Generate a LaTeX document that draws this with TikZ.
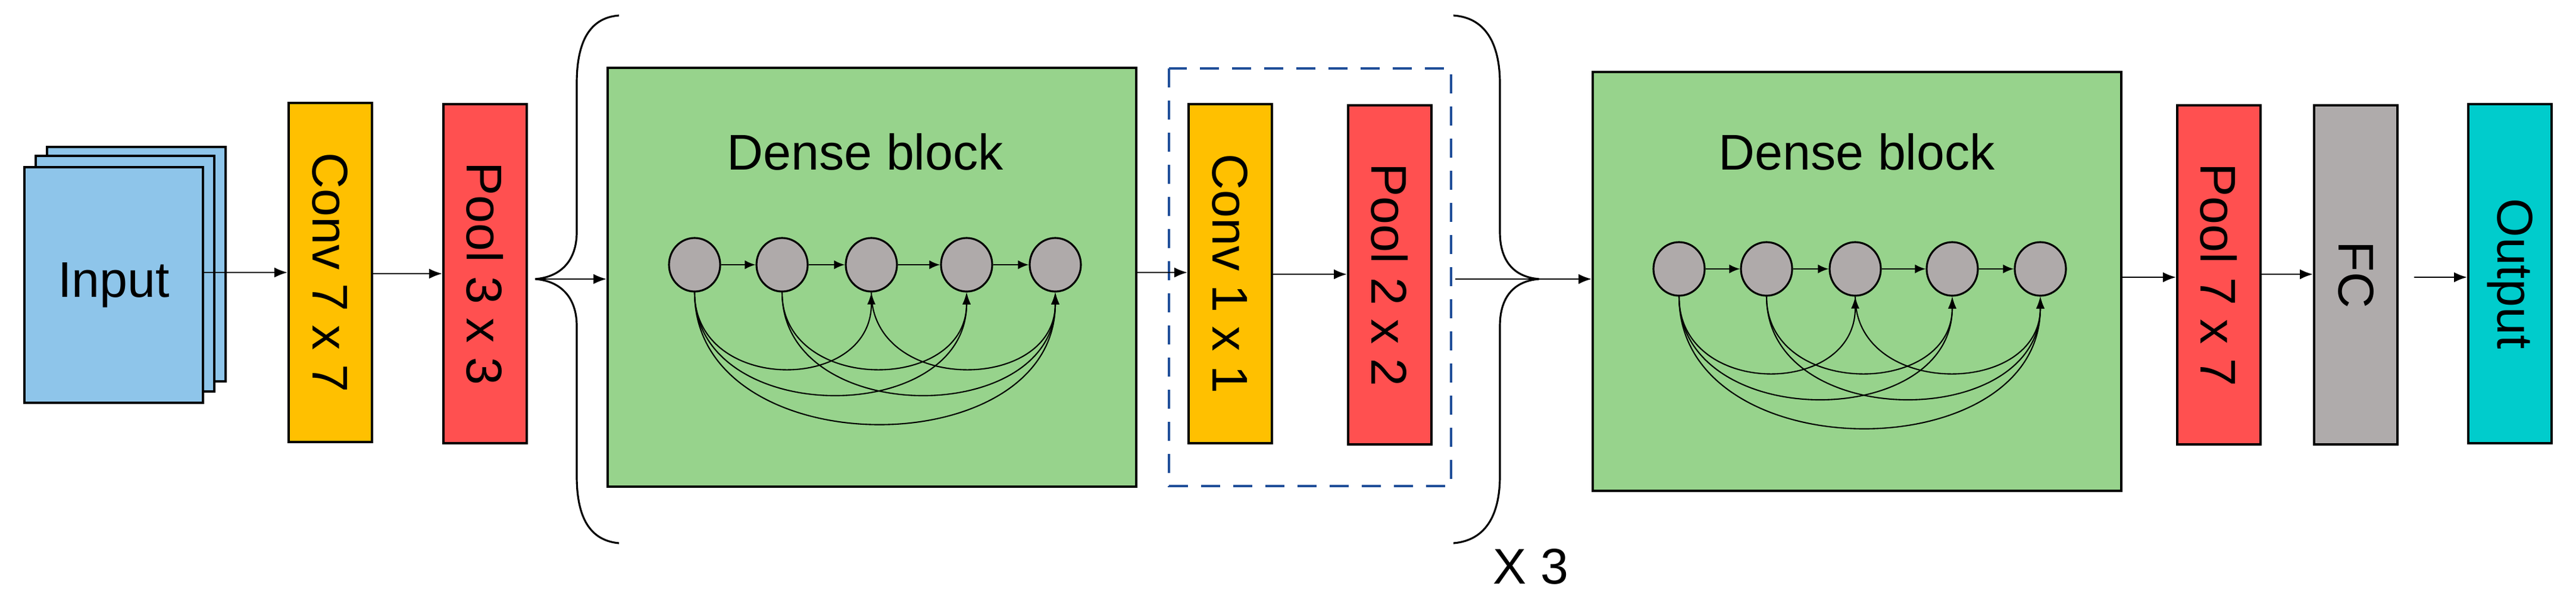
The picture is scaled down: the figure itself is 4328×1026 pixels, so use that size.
\documentclass[tikz,border=0pt]{standalone}
\usepackage{fontspec}
\setmainfont{Liberation Sans}
\usetikzlibrary{arrows.meta,calc}
\definecolor{cin}{HTML}{8EC5EA}
\definecolor{cconv}{HTML}{FFC000}
\definecolor{cpool}{HTML}{FF5050}
\definecolor{cdense}{HTML}{97D38C}
\definecolor{cnode}{HTML}{AFAAAA}
\definecolor{cfc}{HTML}{AFABAB}
\definecolor{cout}{HTML}{00CCCC}
\definecolor{cdash}{HTML}{1F4E99}
\tikzset{
  blk/.style={draw=black,line width=1.1pt,inner sep=0pt,font=\fontsize{24}{28}\selectfont},
  vblk/.style={blk,minimum width=14mm,minimum height=57mm},
  vtxt/.style={rotate=-90,font=\fontsize{24}{28}\selectfont,inner sep=0pt},
  dense/.style={blk,fill=cdense,minimum width=88.8mm,minimum height=70.4mm},
  cir/.style={draw=black,line width=0.9pt,fill=cnode,ellipse,minimum width=8.6mm,minimum height=9mm,inner sep=0pt},
  arr/.style={line width=0.7pt,-{Latex[length=2.2mm,width=1.7mm]}},
  sarr/.style={line width=0.7pt,-{Latex[length=1.8mm,width=1.5mm]}},
  arc/.style={line width=0.6pt,-{Latex[length=2mm,width=1.4mm]}},
  brace/.style={line width=0.9pt},
}
\usetikzlibrary{shapes.geometric}
\begin{document}
\begin{tikzpicture}[x=0.1mm,y=-0.1mm]
\useasboundingbox (0,0) rectangle (4328,1026);
% input stack
\node[blk,fill=cin,minimum width=30mm,minimum height=39.4mm] (in3) at (229,444) {};
\node[blk,fill=cin,minimum width=30mm,minimum height=39.6mm] (in2) at (210,460) {};
\node[blk,fill=cin,minimum width=30mm,minimum height=39.6mm] (in1) at (191,479) {Input};
% conv/pool
\node[vblk,fill=cconv] (conv) at (555,458) {};
\node[vtxt] at (conv) {Conv 7 x 7};
\node[vblk,fill=cpool] (pool) at (815,460) {};
\node[vtxt] at (pool) {Pool 3 x 3};
% dense block 1
\node[dense] (d1) at (1465,466) {};
\node[font=\fontsize{24}{28}\selectfont] (t1) at (1454,255) {Dense block};
% transition
\node[vblk,fill=cconv] (c11) at (2067,460) {};
\node[vtxt] at (c11) {Conv 1 x 1};
\node[vblk,fill=cpool] (p22) at (2335,462) {};
\node[vtxt] at (p22) {Pool 2 x 2};
\draw[cdash,line width=1.2pt,dash pattern=on 3.2mm off 2.2mm] (1964,115) rectangle (2438,817);
\coordinate (dashbox) at (2438,469);
% dense block 2
\node[dense] (d2) at (3120,473) {};
\node[font=\fontsize{24}{28}\selectfont] (t2) at (3120,255) {Dense block};
% end
\node[vblk,fill=cpool] (p77) at (3728,462) {};
\node[vtxt] at (p77) {Pool 7 x 7};
\node[vblk,fill=cfc] (fc) at (3958,462) {};
\node[vtxt] at (fc) {FC};
\node[vblk,fill=cout] (out) at (4217,460) {};
\node[vtxt] at (out) {Output};
\node[font=\fontsize{24}{28}\selectfont] (x3) at (2572,952) {X 3};
% braces
\coordinate (lt) at (899,469);
\coordinate (rt) at (2586,469);
\draw[brace] (1040,26) .. controls (985,30) and (969,80) .. (969,140) -- (969,390)
  .. controls (969,440) and (940,466) .. (lt)
  .. controls (940,472) and (969,498) .. (969,548) -- (969,800)
  .. controls (969,860) and (985,908) .. (1040,913);
\draw[brace] (2442,26) .. controls (2500,30) and (2520,80) .. (2520,140) -- (2520,390)
  .. controls (2520,440) and (2545,466) .. (rt)
  .. controls (2545,472) and (2520,498) .. (2520,548) -- (2520,800)
  .. controls (2520,860) and (2500,908) .. (2442,913);
% main arrows
\draw[arr] (in1.east |- conv.west) -- (conv.west);
\draw[arr] (conv.east |- pool.west) -- (pool.west);
\draw[arr] (lt) -- (lt -| d1.west);
\draw[arr] (d1.east |- 0,458) -- (c11.west |- 0,458);
\draw[arr] (c11.east |- 0,461) -- (p22.west |- 0,461);
\draw[arr] (dashbox -| 2445,0) -- (d2.west |- dashbox);
\draw[arr] (d2.east |- 0,466) -- (p77.west |- 0,466);
\draw[arr] (p77.east |- 0,461) -- (fc.west |- 0,461);
\draw[arr] (4056,466) coordinate (fcout) -- (out.west |- fcout);
% dense nodes
\foreach \blk/\y/\xa/\xb/\xc/\xd/\xe in {a/445/1167/1314/1464/1624/1773, b/452/2821/2968/3117/3280/3428}{
  \node[cir] (\blk1) at (\xa,\y) {};
  \node[cir] (\blk2) at (\xb,\y) {};
  \node[cir] (\blk3) at (\xc,\y) {};
  \node[cir] (\blk4) at (\xd,\y) {};
  \node[cir] (\blk5) at (\xe,\y) {};
  \foreach \i/\j in {1/2,2/3,3/4,4/5}{\draw[sarr] (\blk\i) -- (\blk\j);}
  \draw[arc] (\blk1.south) .. controls +(0,170) and +(0,170) .. (\blk3.south);
  \draw[arc] (\blk2.south) .. controls +(0,170) and +(0,170) .. (\blk4.south);
  \draw[arc] (\blk3.south) .. controls +(0,170) and +(0,170) .. (\blk5.south);
  \draw[arc] (\blk1.south) .. controls +(0,228) and +(0,228) .. (\blk4.south);
  \draw[arc] (\blk2.south) .. controls +(0,228) and +(0,228) .. (\blk5.south);
  \draw[arc] (\blk1.south) .. controls +(0,293) and +(0,293) .. (\blk5.south);
}
\end{tikzpicture}
\end{document}
